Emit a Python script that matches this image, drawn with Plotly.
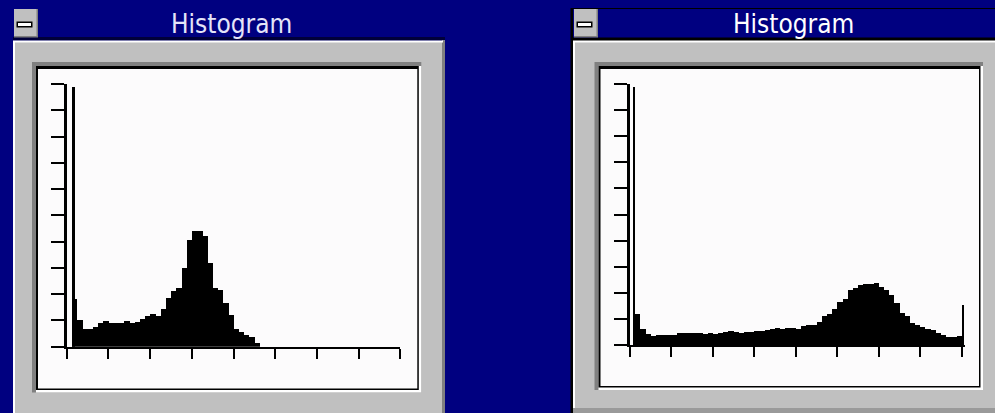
import plotly.graph_objects as go

W, H = 995, 413

# ---------------- data ----------------
bin_width_levels = 4
gray_bins = [2 + 4 * i for i in range(64)]          # centre gray level of each 4-level bin
x_tick_levels = [0, 32, 64, 96, 128, 160, 192, 224, 256]
y_tick_values = [0, 10, 20, 30, 40, 50, 60, 70, 80, 90, 100]

left_values = [0, 18, 10, 6.6, 6.8, 7.6, 8.9, 9.8, 9.1, 9.1,
               9.1, 9.8, 9.1, 9.4, 10.4, 11.7, 12.4, 11.7, 14.2, 18.4,
               21.2, 22.2, 29.8, 40.6, 44.2, 43.9, 42.1, 31.7, 22.5, 21.6,
               16.5, 12.1, 6.6, 5.7, 4.4, 3.6, 1.5, 0, 0, 0,
               0, 0, 0, 0, 0, 0, 0, 0, 0, 0,
               0, 0, 0, 0, 0, 0, 0, 0, 0, 0,
               0, 0, 0, 0]
left_spike_levels = [4.8]
left_spike_values = [99]

right_values = [0, 12, 6, 4.2, 3.3, 3.8, 3.8, 3.8, 4.0, 4.7,
                4.5, 4.7, 4.7, 4.7, 4.2, 4.5, 4.2, 4.7, 5.1, 5.5,
                5.1, 4.7, 5.0, 5.0, 5.5, 5.5, 5.7, 6.0, 6.6, 6.0,
                6.4, 6.6, 6.0, 7.3, 7.5, 7.7, 8.9, 11.1, 11.7, 13.7,
                16.6, 17.5, 21.1, 22.0, 23.0, 23.4, 23.4, 23.6, 22.3, 21.1,
                19.2, 16.0, 12.1, 11.1, 8.6, 7.7, 7.0, 6.0, 5.7, 4.7,
                3.8, 3.2, 3.2, 3.4]
right_spike_levels = [3.2, 257.0]
right_spike_values = [99, 15.3]

titles = ["Histogram", "Histogram"]

# ---------------- colours ----------------
NAVY = "#000080"
GRAY = "#c0c0c0"
DARK = "#808080"
WHITE = "#ffffff"
PAPER = "#fcfbfc"

shapes = []


def rect(x0, y0, x1, y1, fill, line_color=None, line_width=0):
    shapes.append(dict(
        type="rect", xref="paper", yref="paper", layer="below",
        x0=x0 / W, x1=x1 / W, y0=1 - y1 / H, y1=1 - y0 / H,
        fillcolor=fill,
        line=dict(width=line_width, color=line_color or fill),
    ))


def window(fx0, fx1, ty0, ix0, iy0, ix1, iy1, active):
    # title bar
    if active:
        rect(fx0 - 2, ty0 - 1, fx1, 41, "#000000")
        rect(fx0, ty0, fx1, 37.5, NAVY)
    else:
        rect(fx0, 37, fx1, 40.5, "#00003a")
    # minimize button
    rect(fx0 + 1, ty0, fx0 + 25, 37.5, DARK)
    rect(fx0 + 1, ty0, fx0 + 23.5, 36, GRAY)
    rect(fx0 + 3.5, 21.5, fx0 + 19.5, 27.5, "#000000")
    rect(fx0 + 5, 23, fx0 + 18, 26, WHITE)
    # frame
    rect(fx0, 40.5, fx1, 420, WHITE)
    rect(fx0 + 2, 42.5, fx1 - 2, 420, GRAY)
    if not active:
        rect(fx1 - 3, 40.5, fx1, 420, DARK)
        rect(fx1 - 3, 40.5, fx1 - 2, 42.5, WHITE)
    else:
        rect(fx0, 408, fx1, 420, "#9a9a9a")
    # sunken panel
    rect(ix0 - 6, iy0 - 7, ix1 + 4, iy1 + 4, DARK)
    rect(ix0 - 2, iy0 - 3, ix1 + 4, iy1 + 4, WHITE)
    rect(ix0 - 2, iy0 - 3, ix1 + 1.5, iy1 + 1.5, "#000000")
    rect(ix0, iy0, ix1, iy1, PAPER)


# left window: frame x 13..445, interior 38..417 x 69..388.5
window(13, 445, 9, 38, 69, 417.3, 388.5, active=False)
# right window: frame x 573..1000, interior 600.5..979 x 69..386
window(573, 1000, 9, 600.5, 69, 979, 386, active=True)
# outline at left of right window
rect(570.5, 8, 573, 420, "#000000")

fig = go.Figure()

for vals, sl, sv, xa, ya, sw in [
    (left_values, left_spike_levels, left_spike_values, "x", "y", 2.2),
    (right_values, right_spike_levels, right_spike_values, "x2", "y2", 2.0),
]:
    fig.add_trace(go.Bar(x=gray_bins, y=vals, width=bin_width_levels,
                         marker=dict(color="#000000", line=dict(width=0)),
                         xaxis=xa, yaxis=ya, hoverinfo="skip", showlegend=False))
    fig.add_trace(go.Bar(x=sl, y=sv, width=sw,
                         marker=dict(color="#000000", line=dict(width=0)),
                         xaxis=xa, yaxis=ya, hoverinfo="skip", showlegend=False))


def xaxis(dom, anchor, xmax):
    return dict(domain=dom, anchor=anchor, range=[0, xmax], tickvals=x_tick_levels,
                showticklabels=False, ticks="outside", ticklen=10, tickwidth=2,
                tickcolor="#000000", showline=True, linewidth=2, linecolor="#000000",
                showgrid=False, zeroline=False, fixedrange=True)


def yaxis(dom, anchor):
    return dict(domain=dom, anchor=anchor, range=[0, 100], tickvals=y_tick_values,
                showticklabels=False, ticks="outside", ticklen=13, tickwidth=2,
                tickcolor="#000000", showline=True, linewidth=3, linecolor="#000000",
                showgrid=False, zeroline=False, fixedrange=True)


TITLE_FONT = "Liberation Sans Narrow, DejaVu Sans Condensed, DejaVu Sans, sans-serif"
R_PX_PER_LEVEL = (961.7 - 630) / 256
R_MAX = 258.3

fig.update_layout(
    width=W, height=H,
    margin=dict(l=0, r=0, t=0, b=0, pad=0),
    paper_bgcolor=NAVY, plot_bgcolor="rgba(0,0,0,0)",
    bargap=0, barmode="overlay",
    shapes=shapes,
    xaxis=xaxis([66.7 / W, 400.3 / W], "y", 256),
    yaxis=yaxis([1 - 346.7 / H, 1 - 84 / H], "x"),
    xaxis2=xaxis([630 / W, (630 + R_MAX * R_PX_PER_LEVEL) / W], "y2", R_MAX),
    yaxis2=yaxis([1 - 345 / H, 1 - 84 / H], "x2"),
    annotations=[
        dict(text=titles[0], x=231.5 / W, y=1 - 24 / H, xref="paper", yref="paper",
             showarrow=False, xanchor="center", yanchor="middle",
             font=dict(family=TITLE_FONT, size=26, color="#e4e4f8")),
        dict(text=titles[1], x=793.3 / W, y=1 - 24 / H, xref="paper", yref="paper",
             showarrow=False, xanchor="center", yanchor="middle",
             font=dict(family=TITLE_FONT, size=26, color="#ffffff")),
    ],
)

fig.write_html(
    "out.html",
    config={"displayModeBar": False},
    post_script="document.body.style.margin='0';document.body.style.background='#000080';",
)
